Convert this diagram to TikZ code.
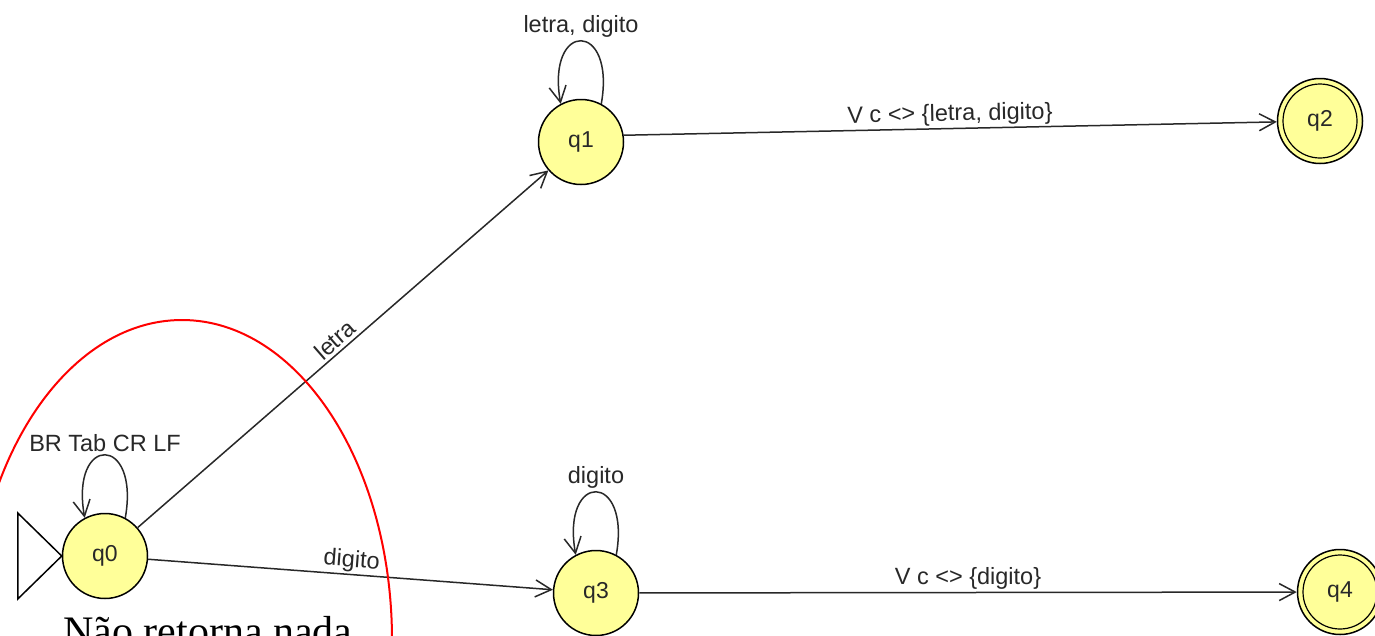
\documentclass[tikz,border=0pt]{standalone}
\usepackage{fontspec}
\setmainfont{Liberation Sans}
\newfontfamily\serifN{Liberation Serif}
\usetikzlibrary{arrows.meta}
\definecolor{stfill}{RGB}{255,255,153}
\definecolor{ink}{RGB}{40,40,40}
\tikzset{
  state/.style={circle, draw=black, fill=stfill, line width=1.5pt, minimum size=85pt, inner sep=0pt,
    text=ink, font=\fontsize{23}{23}\selectfont},
  edge/.style={draw=ink, line width=1.5pt, -{Straight Barb[length=16pt,width=17pt,line width=1.5pt]}},
  lbl/.style={text=ink, font=\fontsize{23.5}{23.5}\selectfont, inner sep=2pt},
}
\begin{document}
\begin{tikzpicture}[x=1pt,y=-1pt]
\useasboundingbox (0,0) rectangle (1375,635);
\clip (0,0) rectangle (1375,635);
\fill[white] (0,0) rectangle (1375,635);
% states
\node[state] (q0) at (105,556) {q0};
\node[state] (q1) at (581,142) {q1};
\node[state] (q2) at (1320,121) {q2};
\node[state] (q3) at (596,593) {q3};
\node[state] (q4) at (1340,592) {q4};
\draw[line width=1.2pt] (q2.center) circle[radius=37pt];
\draw[line width=1.2pt] (q4.center) circle[radius=37pt];
% initial triangle
\draw[line width=1.5pt, line join=miter] (q0.west) -- ++(-44,-43) -- ++(0,86) -- cycle;
% transitions
\draw[edge] (q0) -- node[lbl, sloped, above=1pt, pos=0.5] {letra} (q1);
\draw[edge] (q0) -- node[lbl, sloped, above, pos=0.5] {digito} (q3);
\draw[edge] (q1.9) -- node[lbl, sloped, above, pos=0.5] {V c <> \{letra, digito\}} (q2);
\draw[edge] (q3) -- node[lbl, above, pos=0.5] {V c <> \{digito\}} (q4);
% loops
\draw[edge] (q0.62) .. controls +(-80:85) and +(-100:85) .. node[lbl, pos=0.5, above=1pt] {BR Tab CR LF} (q0.118);
\draw[edge] (q1.62) .. controls +(-80:85) and +(-100:85) .. node[lbl, pos=0.5, above=1pt] {letra, digito} (q1.118);
\draw[edge] (q3.62) .. controls +(-80:85) and +(-100:85) .. node[lbl, pos=0.5, above=1pt] {digito} (q3.118);
% red ellipse
\draw[red, line width=2pt] (182,640) ellipse [x radius=210pt, y radius=320pt];
\node[anchor=base, font=\serifN\fontsize{42}{42}\selectfont, inner sep=0pt] (note) at (208,645) {Não retorna nada};
\end{tikzpicture}
\end{document}
